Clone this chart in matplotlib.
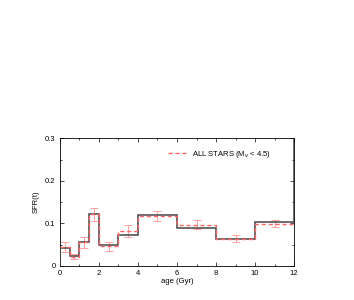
import matplotlib
matplotlib.use("Agg")
import matplotlib.pyplot as plt
import numpy as np
from matplotlib.ticker import MultipleLocator

# bin edges of the age histogram (Gyr)
edges = [0, 0.5, 1, 1.5, 2, 3, 4, 6, 8, 10, 12, 13]
# solid model SFR (last bin past 12 runs off the top)
sfr_model = [0.041, 0.023, 0.056, 0.121, 0.048, 0.072, 0.120, 0.088, 0.064, 0.104, 0.40]
# dashed: all stars
sfr_all = [0.044, 0.021, 0.055, 0.121, 0.046, 0.082, 0.117, 0.097, 0.064, 0.099]
err_all = [0.011, 0.006, 0.012, 0.016, 0.010, 0.015, 0.012, 0.010, 0.008, 0.008]

plt.rcParams['font.family'] = ['Liberation Sans', 'DejaVu Sans']

fig = plt.figure(figsize=(3.54, 3.0), dpi=100)
ax = fig.add_axes([0.169, 0.114, 0.662, 0.425])

e = np.array(edges)
centers = (e[:-2] + e[1:-1]) / 2

ax.stairs(sfr_model, e, color='#444444', lw=1.1, zorder=3)
ax.stairs(sfr_all, e[:-1], baseline=None, color='#ff6666', lw=1.0,
          ls=(0, (3, 2)), zorder=4, label='ALL STARS (M$_v$ < 4.5)')
ax.errorbar(centers, sfr_all, yerr=err_all, fmt='none', ecolor='#ffa0a0',
            elinewidth=0.7, capsize=3, capthick=0.7, zorder=2)

ax.set_xlim(0, 12)
ax.set_ylim(0, 0.3)
ax.xaxis.set_major_locator(MultipleLocator(2))
ax.xaxis.set_minor_locator(MultipleLocator(1))
ax.yaxis.set_minor_locator(MultipleLocator(0.05))
ax.set_yticks([0, 0.1, 0.2, 0.3])
ax.set_yticklabels(['0', '0.1', '0.2', '0.3'])
ax.tick_params(which='both', direction='in', top=True, right=True, labelsize=5.5,
               pad=3, width=0.5)
ax.tick_params(which='major', length=3)
ax.tick_params(which='minor', length=1.5)
for s in ax.spines.values():
    s.set_linewidth(0.6)

ax.set_xlabel('age (Gyr)', fontsize=5.5, labelpad=1)
ax.set_ylabel('SFR(t)', fontsize=5.5, labelpad=4)

ax.legend(loc='upper right', frameon=False, fontsize=5.5, handlelength=2.3,
          bbox_to_anchor=(0.93, 0.97))

fig.savefig('out.png', dpi=100)
